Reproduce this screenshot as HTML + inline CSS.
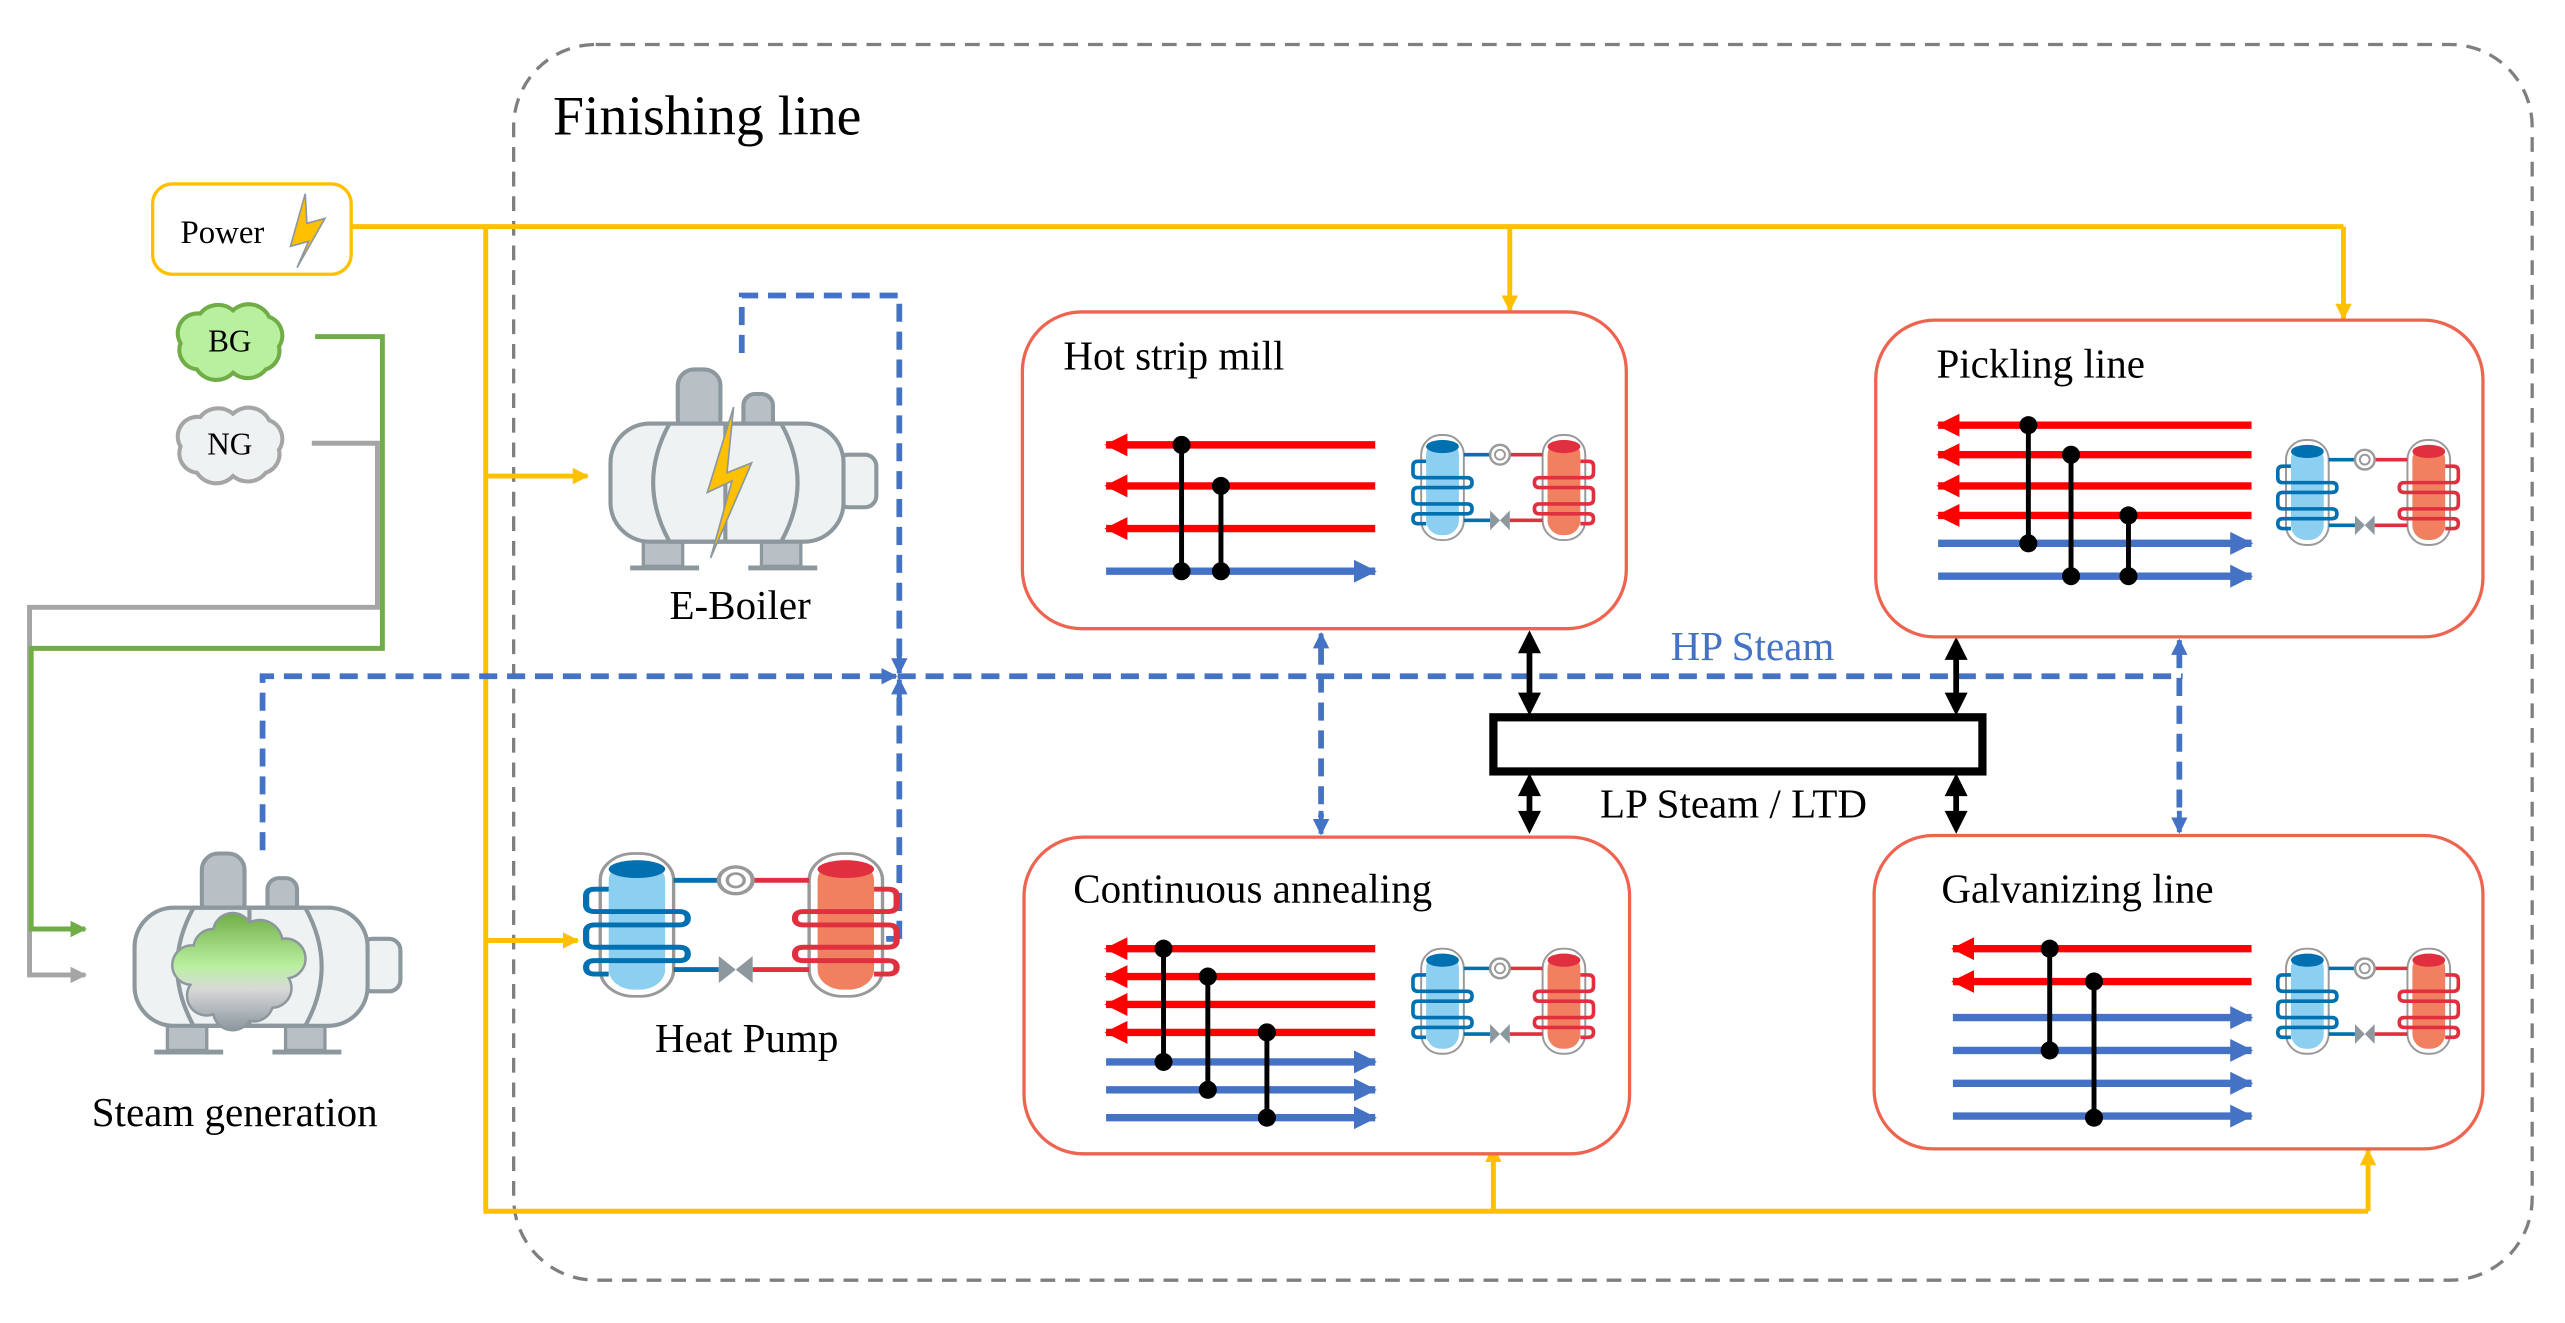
<!DOCTYPE html>
<html><head><meta charset="utf-8"><style>html,body{margin:0;padding:0;background:#fff}svg{display:block}svg text{font-family:"Liberation Serif","Times New Roman","DejaVu Serif",serif}</style></head><body>
<svg width="2565" height="1323" viewBox="0 0 1563 806" xmlns="http://www.w3.org/2000/svg">
<defs>
<marker id="ay" markerWidth="10" markerHeight="10" refX="9" refY="5" orient="auto" markerUnits="userSpaceOnUse"><path d="M0,0 L10,5 L0,10 z" fill="#FFC000"/></marker>
<marker id="ab" markerWidth="10" markerHeight="10" refX="9" refY="5" orient="auto" markerUnits="userSpaceOnUse"><path d="M0,0 L10,5 L0,10 z" fill="#4472C4"/></marker>
<marker id="ag" markerWidth="10" markerHeight="10" refX="9" refY="5" orient="auto" markerUnits="userSpaceOnUse"><path d="M0,0 L10,5 L0,10 z" fill="#70AD47"/></marker>
<marker id="agr" markerWidth="10" markerHeight="10" refX="9" refY="5" orient="auto" markerUnits="userSpaceOnUse"><path d="M0,0 L10,5 L0,10 z" fill="#A5A5A5"/></marker>
<marker id="ar" markerWidth="14" markerHeight="14" refX="13" refY="7" orient="auto" markerUnits="userSpaceOnUse"><path d="M0,0 L14,7 L0,14 z" fill="#FF0000"/></marker>
<marker id="abl" markerWidth="14" markerHeight="14" refX="13" refY="7" orient="auto" markerUnits="userSpaceOnUse"><path d="M0,0 L14,7 L0,14 z" fill="#4472C4"/></marker>
<linearGradient id="cg" x1="0" y1="0" x2="0" y2="1"><stop offset="0" stop-color="#70AD47"/><stop offset="0.45" stop-color="#B9F0A0"/><stop offset="0.65" stop-color="#D8D8D8"/><stop offset="1" stop-color="#8C979E"/></linearGradient>
<g id="hp">
 <rect x="8" y="0" width="26" height="64" rx="12" fill="#fff" stroke="#999" stroke-width="1.2"/>
 <rect x="11" y="3" width="20" height="58" rx="9" fill="#8DCFF0"/>
 <ellipse cx="21" cy="7" rx="10" ry="4" fill="#0070B0"/>
 <rect x="82" y="0" width="26" height="64" rx="12" fill="#fff" stroke="#999" stroke-width="1.2"/>
 <rect x="85" y="3" width="20" height="58" rx="9" fill="#F08060"/>
 <ellipse cx="95" cy="7" rx="10" ry="4" fill="#E03040"/>
 <path d="M34,12 H50 M34,52 H50" stroke="#0070B0" stroke-width="2.2" fill="none"/>
 <path d="M62,12 H82 M62,52 H82" stroke="#E03040" stroke-width="2.2" fill="none"/>
 <path d="M11,16 H6 Q3,16 3,19 V23 Q3,26 6,26 H36 Q39,26 39,29 Q39,32 36,32 H6 Q3,32 3,35 V39 Q3,42 6,42 H36 Q39,42 39,45 Q39,48 36,48 H6 Q3,48 3,51 Q3,54 6,54 H11" stroke="#0070B0" stroke-width="2.2" fill="none"/>
 <path d="M105,16 H110 Q113,16 113,19 V23 Q113,26 110,26 H80 Q77,26 77,29 Q77,32 80,32 H110 Q113,32 113,35 V39 Q113,42 110,42 H80 Q77,42 77,45 Q77,48 80,48 H110 Q113,48 113,51 Q113,54 110,54 H105" stroke="#E03040" stroke-width="2.2" fill="none"/>
 <circle cx="56" cy="12" r="6" fill="#fff" stroke="#999" stroke-width="1.5"/>
 <circle cx="56" cy="12" r="3" fill="none" stroke="#999" stroke-width="1.2"/>
 <path d="M50,46 L56,52 L50,58 z M62,46 L56,52 L62,58 z" fill="#8C979E"/>
</g>
<g id="boil">
 <rect x="43" y="0" width="26" height="40" rx="10" fill="#B8C0C6" stroke="#8C979E" stroke-width="2.5"/>
 <rect x="83" y="15" width="18" height="25" rx="7" fill="#B8C0C6" stroke="#8C979E" stroke-width="2.5"/>
 <rect x="22" y="104" width="24" height="16" fill="#B8C0C6" stroke="#8C979E" stroke-width="2"/>
 <rect x="94" y="104" width="24" height="16" fill="#B8C0C6" stroke="#8C979E" stroke-width="2"/>
 <path d="M14,121 H56 M86,121 H128" stroke="#8C979E" stroke-width="3"/>
 <rect x="140" y="52" width="24" height="32" rx="7" fill="#EEF2F2" stroke="#8C979E" stroke-width="2.5"/>
 <rect x="2" y="33" width="142" height="72" rx="24" fill="#EEF2F2" stroke="#8C979E" stroke-width="2.5"/>
 <path d="M38,33 Q18,69 38,105 M106,33 Q126,69 106,105 M38,33 H106 M38,105 H106 M72,33 V105" stroke="#8C979E" stroke-width="2.5" fill="none"/>
</g>
</defs>

<rect x="313" y="27" width="1230" height="753" rx="50" fill="none" stroke="#7F7F7F" stroke-width="2" stroke-dasharray="9,6"/>
<text x="337" y="82" font-size="34">Finishing line</text>

<path d="M214,138 H1428" stroke="#FFC000" stroke-width="3" fill="none"/>
<path d="M920,138 V189" stroke="#FFC000" stroke-width="3" fill="none" marker-end="url(#ay)"/>
<path d="M1428,138 V194" stroke="#FFC000" stroke-width="3" fill="none" marker-end="url(#ay)"/>
<path d="M296,138 V738 H1443" stroke="#FFC000" stroke-width="3" fill="none"/>
<path d="M910,738 V699" stroke="#FFC000" stroke-width="3" fill="none" marker-end="url(#ay)"/>
<path d="M1443,738 V701" stroke="#FFC000" stroke-width="3" fill="none" marker-end="url(#ay)"/>
<path d="M296,290 H358" stroke="#FFC000" stroke-width="3" fill="none" marker-end="url(#ay)"/>
<path d="M296,573 H352" stroke="#FFC000" stroke-width="3" fill="none" marker-end="url(#ay)"/>

<rect x="93" y="112" width="121" height="55" rx="12" fill="#fff" stroke="#FFC000" stroke-width="2"/>
<text x="110" y="148" font-size="20">Power</text>
<path d="M186,118 L177,150 L188,147 L181,163 L198,133 L187,136 z" fill="#FFC000" stroke="#8C979E" stroke-width="1"/>

<path d="M190,270 H230 V370 H18 V594 H52" stroke="#A5A5A5" stroke-width="3" fill="none" marker-end="url(#agr)"/>
<path d="M192,205 H233 V395 H19 V566 H52" stroke="#70AD47" stroke-width="3" fill="none" marker-end="url(#ag)"/>

<g transform="translate(140,207)">
<path d="M-18,-16 A14,14 0 0 1 2,-18 A14,14 0 0 1 24,-14 A12,12 0 0 1 30,4 A12,12 0 0 1 22,18 A14,14 0 0 1 2,20 A14,14 0 0 1 -20,18 A12,12 0 0 1 -30,2 A12,12 0 0 1 -18,-16 z" fill="#B9F0A0" stroke="#70AD47" stroke-width="2.5"/>
<text x="0" y="7" font-size="19" text-anchor="middle">BG</text></g>
<g transform="translate(140,270)">
<path d="M-18,-16 A14,14 0 0 1 2,-18 A14,14 0 0 1 24,-14 A12,12 0 0 1 30,4 A12,12 0 0 1 22,18 A14,14 0 0 1 2,20 A14,14 0 0 1 -20,18 A12,12 0 0 1 -30,2 A12,12 0 0 1 -18,-16 z" fill="#EEF2F2" stroke="#A5A5A5" stroke-width="2.5"/>
<text x="0" y="7" font-size="19" text-anchor="middle">NG</text></g>

<g stroke="#4472C4" stroke-width="3.5" fill="none" stroke-dasharray="11,6">
<path d="M160,518 V412 H1330"/>
<path d="M452,215 V180 H548 V404"/>
<path d="M548,572 H540 M548,572 V420"/>
<path d="M805,394 V498"/>
<path d="M1328,396 V498"/>
</g>
<path d="M548,398 V410" stroke="#4472C4" stroke-width="3" marker-end="url(#ab)"/>
<path d="M548,426 V414" stroke="#4472C4" stroke-width="3" marker-end="url(#ab)"/>
<path d="M535,412 H546" stroke="#4472C4" stroke-width="3" marker-end="url(#ab)"/>
<path d="M805,400 V386" stroke="#4472C4" stroke-width="3" marker-end="url(#ab)"/>
<path d="M805,494 V508" stroke="#4472C4" stroke-width="3" marker-end="url(#ab)"/>
<path d="M1328,402 V390" stroke="#4472C4" stroke-width="3" marker-end="url(#ab)"/>
<path d="M1328,494 V507" stroke="#4472C4" stroke-width="3" marker-end="url(#ab)"/>
<text x="1018" y="402" font-size="25" fill="#4472C4">HP Steam</text>

<rect x="910" y="437" width="298" height="33" fill="#fff" stroke="#000" stroke-width="5"/>
<path d="M932,390 V430 M932,477 V502 M1192,394 V430 M1192,477 V502" stroke="#000" stroke-width="3.5"/>
<path d="M925,398 L932,384 L939,398 z M925,422 L932,436 L939,422 z M925,485 L932,471 L939,485 z M925,494 L932,508 L939,494 z M1185,402 L1192,388 L1199,402 z M1185,422 L1192,436 L1199,422 z M1185,485 L1192,471 L1199,485 z M1185,494 L1192,508 L1199,494 z" fill="#000"/>
<text x="975" y="498" font-size="25">LP Steam / LTD</text>

<g fill="#fff" stroke="#EE6450" stroke-width="2">
<rect x="623" y="190" width="368" height="193" rx="36"/>
<rect x="1143" y="195" width="370" height="193" rx="36"/>
<rect x="624" y="510" width="369" height="193" rx="36"/>
<rect x="1142" y="509" width="371" height="191" rx="36"/>
</g>
<g font-size="25">
<text x="648" y="225">Hot strip mill</text>
<text x="1180" y="230">Pickling line</text>
<text x="654" y="550">Continuous annealing</text>
<text x="1183" y="550">Galvanizing line</text>
</g>

<g stroke-width="4.5" fill="none">
<g stroke="#FF0000"><path d="M838,271 H674" marker-end="url(#ar)"/><path d="M838,296 H674" marker-end="url(#ar)"/><path d="M838,322 H674" marker-end="url(#ar)"/></g>
<g stroke="#4472C4"><path d="M674,348 H838" marker-end="url(#abl)"/></g>
<g stroke="#FF0000"><path d="M1372,259 H1181" marker-end="url(#ar)"/><path d="M1372,277 H1181" marker-end="url(#ar)"/><path d="M1372,296 H1181" marker-end="url(#ar)"/><path d="M1372,314 H1181" marker-end="url(#ar)"/></g>
<g stroke="#4472C4"><path d="M1181,331 H1372" marker-end="url(#abl)"/><path d="M1181,351 H1372" marker-end="url(#abl)"/></g>
<g stroke="#FF0000"><path d="M838,578 H674" marker-end="url(#ar)"/><path d="M838,595 H674" marker-end="url(#ar)"/><path d="M838,612 H674" marker-end="url(#ar)"/><path d="M838,629 H674" marker-end="url(#ar)"/></g>
<g stroke="#4472C4"><path d="M674,647 H838" marker-end="url(#abl)"/><path d="M674,664 H838" marker-end="url(#abl)"/><path d="M674,681 H838" marker-end="url(#abl)"/></g>
<g stroke="#FF0000"><path d="M1372,578 H1190" marker-end="url(#ar)"/><path d="M1372,598 H1190" marker-end="url(#ar)"/></g>
<g stroke="#4472C4"><path d="M1190,620 H1372" marker-end="url(#abl)"/><path d="M1190,640 H1372" marker-end="url(#abl)"/><path d="M1190,660 H1372" marker-end="url(#abl)"/><path d="M1190,680 H1372" marker-end="url(#abl)"/></g>
</g>
<g stroke="#000" stroke-width="3">
<path d="M720,271 V348 M744,296 V348 M1236,259 V331 M1262,277 V351 M1297,314 V351 M709,578 V647 M736,595 V664 M772,629 V681 M1249,578 V640 M1276,598 V681"/>
</g>
<g fill="#000">
<circle cx="720" cy="271" r="5.5"/><circle cx="720" cy="348" r="5.5"/><circle cx="744" cy="296" r="5.5"/><circle cx="744" cy="348" r="5.5"/>
<circle cx="1236" cy="259" r="5.5"/><circle cx="1236" cy="331" r="5.5"/><circle cx="1262" cy="277" r="5.5"/><circle cx="1262" cy="351" r="5.5"/><circle cx="1297" cy="314" r="5.5"/><circle cx="1297" cy="351" r="5.5"/>
<circle cx="709" cy="578" r="5.5"/><circle cx="709" cy="647" r="5.5"/><circle cx="736" cy="595" r="5.5"/><circle cx="736" cy="664" r="5.5"/><circle cx="772" cy="629" r="5.5"/><circle cx="772" cy="681" r="5.5"/>
<circle cx="1249" cy="578" r="5.5"/><circle cx="1249" cy="640" r="5.5"/><circle cx="1276" cy="598" r="5.5"/><circle cx="1276" cy="681" r="5.5"/>
</g>

<use href="#hp" transform="translate(858,265)"/>
<use href="#hp" transform="translate(1385,268)"/>
<use href="#hp" transform="translate(858,578)"/>
<use href="#hp" transform="translate(1385,578)"/>
<use href="#hp" transform="translate(352,520) scale(1.72,1.36)"/>
<text x="455" y="641" font-size="25" text-anchor="middle">Heat Pump</text>

<use href="#boil" transform="translate(80,520)"/>
<path d="M130,566 A12,12 0 0 1 152,562 A14,14 0 0 1 172,572 A12,12 0 0 1 176,596 A12,12 0 0 1 166,614 A12,12 0 0 1 152,622 A12,12 0 0 1 130,618 A12,12 0 0 1 116,600 A12,12 0 0 1 118,576 A12,12 0 0 1 130,566 z" fill="url(#cg)" stroke="#8C979E" stroke-width="1.5"/>
<text x="143" y="686" font-size="25" text-anchor="middle">Steam generation</text>
<use href="#boil" transform="translate(370,225)"/>
<path d="M447,248 L431,300 L446,293 L433,340 L458,282 L443,288 z" fill="#FFC000" stroke="#8C979E" stroke-width="1"/>
<text x="451" y="377" font-size="25" text-anchor="middle">E-Boiler</text>
</svg>
</body></html>
